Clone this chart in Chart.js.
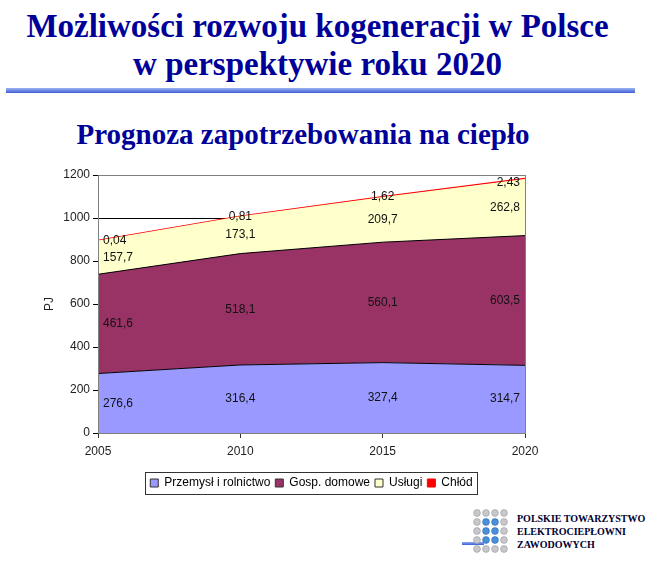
<!DOCTYPE html>
<html>
<head>
<meta charset="utf-8">
<script src="https://cdn.jsdelivr.net/npm/chart.js@4.4.1/dist/chart.umd.min.js"></script>
<style>
  body { margin: 0; width: 659px; height: 561px; background: #fff; position: relative; overflow: hidden; }
  .title { position: absolute; left: 0; width: 635px; text-align: center; color: #000099;
           font-family: "Liberation Serif", serif; font-weight: bold; white-space: nowrap; }
  #t1 { top: 7px; font-size: 33px; line-height: 38px; }
  #t2 { top: 45px; font-size: 33px; line-height: 38px; }
  #sub { top: 117px; width: 606px; font-size: 29px; line-height: 34px; }
  #rule { position: absolute; left: 6px; top: 88px; width: 629px; height: 5px;
          background: linear-gradient(#9db3f2, #3d5fd6); }
  #rule2 { position: absolute; left: 462px; top: 542px; width: 22px; height: 3px;
           background: linear-gradient(#8fa8f0, #3d5fd6); }
  #wrap { position: absolute; left: 0; top: 150px; width: 560px; height: 353px; }
  #logo { position: absolute; left: 473px; top: 509px; }
  #org { position: absolute; left: 517px; top: 512px; font-family: "Liberation Serif", serif;
         font-weight: bold; font-size: 10px; line-height: 13px; color: #000033; }
</style>
</head>
<body>
<div class="title" id="t1">Możliwości rozwoju kogeneracji w Polsce</div>
<div class="title" id="t2">w perspektywie roku 2020</div>
<div id="rule"></div>
<div class="title" id="sub">Prognoza zapotrzebowania na ciepło</div>
<div id="wrap"><canvas id="myChart"></canvas></div>
<div id="rule2"></div>
<svg id="logo" width="42" height="44">
  <g fill="#c8c8cc" stroke="#9a9aa0" stroke-width="0.6">
    <circle cx="4" cy="4" r="3.4"/><circle cx="13" cy="4" r="3.4"/><circle cx="22" cy="4" r="3.4"/><circle cx="31" cy="4" r="3.4"/>
    <circle cx="4" cy="13" r="3.4"/><circle cx="31" cy="13" r="3.4"/>
    <circle cx="4" cy="22" r="3.4"/><circle cx="31" cy="22" r="3.4"/>
    <circle cx="4" cy="31" r="3.4"/><circle cx="31" cy="31" r="3.4"/>
    <circle cx="4" cy="40" r="3.4"/><circle cx="13" cy="40" r="3.4"/><circle cx="22" cy="40" r="3.4"/><circle cx="31" cy="40" r="3.4"/>
  </g>
  <g fill="#4a90d8" stroke="#2a6ab0" stroke-width="0.6">
    <circle cx="13" cy="13" r="3.4"/><circle cx="22" cy="13" r="3.4"/>
    <circle cx="13" cy="22" r="3.4"/><circle cx="22" cy="22" r="3.4"/>
    <circle cx="13" cy="31" r="3.4"/><circle cx="22" cy="31" r="3.4"/>
  </g>
</svg>
<div id="org">POLSKIE TOWARZYSTWO<br>ELEKTROCIEPŁOWNI<br>ZAWODOWYCH</div>
<script>
const years = ['2005', '2010', '2015', '2020'];
const przemysl = [276.6, 316.4, 327.4, 314.7];
const gosp = [461.6, 518.1, 560.1, 603.5];
const uslugi = [157.7, 173.1, 209.7, 262.8];
const chlod = [0.04, 0.81, 1.62, 2.43];
const yTicks = [0, 200, 400, 600, 800, 1000, 1200];

const seriesNames = ['Przemysł i rolnictwo', 'Gosp. domowe', 'Usługi', 'Chłód'];
const fills = ['#9999ff', '#993366', '#ffffcc', '#ff0000'];

function fmt(v) {
    return String(v).replace('.', ',');
}

// labels in the middle of each band, kept inside the plot
const bandLabels = {
    id: 'bandLabels',
    afterDatasetsDraw(chart) {
        const ctx = chart.ctx;
        const area = chart.chartArea;
        const y0 = chart.scales.y.getPixelForValue(0);
        ctx.save();
        ctx.font = '12px "Liberation Sans", Arial, sans-serif';
        ctx.fillStyle = '#111';
        ctx.textBaseline = 'middle';
        ctx.textAlign = 'center';
        chart.data.datasets.forEach((ds, i) => {
            const meta = chart.getDatasetMeta(i);
            const prev = i > 0 ? chart.getDatasetMeta(i - 1) : null;
            meta.data.forEach((pt, j) => {
                const top = pt.y;
                const bottom = prev ? prev.data[j].y : y0;
                const text = fmt(ds.data[j]);
                const w = ctx.measureText(text).width;
                let x = pt.x;
                x = Math.max(x, area.left + 5 + w / 2);
                x = Math.min(x, area.right - 5 - w / 2);
                let y = (top + bottom) / 2;
                y = Math.max(y, area.top + 8);
                ctx.fillText(text, x, y);
            });
        });
        ctx.restore();
    }
};

const frame = {
    id: 'frame',
    afterDraw(chart) {
        const ctx = chart.ctx;
        const a = chart.chartArea;
        ctx.save();
        ctx.strokeStyle = '#808080';
        ctx.lineWidth = 1;
        ctx.strokeRect(Math.round(a.left) + 0.5, Math.round(a.top) + 0.5,
            Math.round(a.right - a.left), Math.round(a.bottom - a.top));
        const items = chart.legend.legendHitBoxes;
        if (items.length) {
            const l = items[0].left - 5;
            const last = items[items.length - 1];
            const r = last.left + last.width + 5;
            const t = items[0].top - 5;
            const b = items[0].top + items[0].height + 5;
            ctx.strokeStyle = '#333';
            ctx.strokeRect(Math.round(l) + 0.5, Math.round(t) + 0.5, Math.round(r - l), Math.round(b - t));
        }
        ctx.restore();
    }
};

const seriesData = [przemysl, gosp, uslugi, chlod];
const borders = ['#000000', '#000000', 'rgba(0,0,0,0)', '#ff0000'];

const ctx = document.getElementById('myChart').getContext('2d');
new Chart(ctx, {
    type: 'line',
    data: {
        labels: years,
        datasets: seriesData.map((d, i) => ({
            label: seriesNames[i],
            data: d,
            backgroundColor: fills[i],
            borderColor: borders[i],
            borderWidth: i === 3 ? 1.5 : 1,
            fill: i === 0 ? 'origin' : '-1',
            pointRadius: 0,
            tension: 0,
        })),
    },
    options: {
        responsive: true,
        maintainAspectRatio: false,
        animation: false,
        layout: { padding: { left: 42, right: 35, top: 25, bottom: 4 } },
        scales: {
            x: {
                offset: false,
                grid: { drawOnChartArea: false, color: '#333', tickLength: 5 },
                border: { color: '#808080' },
                ticks: { color: '#222', font: { size: 12, family: 'Liberation Sans' }, padding: 6, maxRotation: 0 },
                afterFit: (s) => { s.height = 39; },
            },
            y: {
                stacked: true,
                min: 0,
                max: 1200,
                afterBuildTicks: (s) => { s.ticks = yTicks.map((v) => ({ value: v })); },
                grid: { color: '#000', tickLength: 5 },
                border: { color: '#808080' },
                ticks: {
                    color: '#222',
                    font: { size: 12, family: 'Liberation Sans' },
                    padding: 3,
                    callback: (v) => String(v),
                },
                title: { display: true, text: 'PJ', color: '#222', font: { size: 12, family: 'Liberation Sans' }, padding: 0 },
                afterFit: (s) => { s.width = 56; },
            },
        },
        plugins: {
            legend: {
                position: 'bottom',
                fullSize: false,
                labels: {
                    boxWidth: 8,
                    boxHeight: 8,
                    padding: 5,
                    color: '#111',
                    font: { size: 12, family: 'Liberation Sans' },
                    generateLabels: (chart) => chart.data.datasets.map((ds, i) => ({
                        text: ds.label,
                        fillStyle: fills[i],
                        strokeStyle: i === 3 ? '#ff0000' : '#333',
                        lineWidth: 1,
                        datasetIndex: i,
                        hidden: false,
                    })),
                },
            },
            tooltip: { enabled: false },
        },
    },
    plugins: [bandLabels, frame],
});
</script>
</body>
</html>
